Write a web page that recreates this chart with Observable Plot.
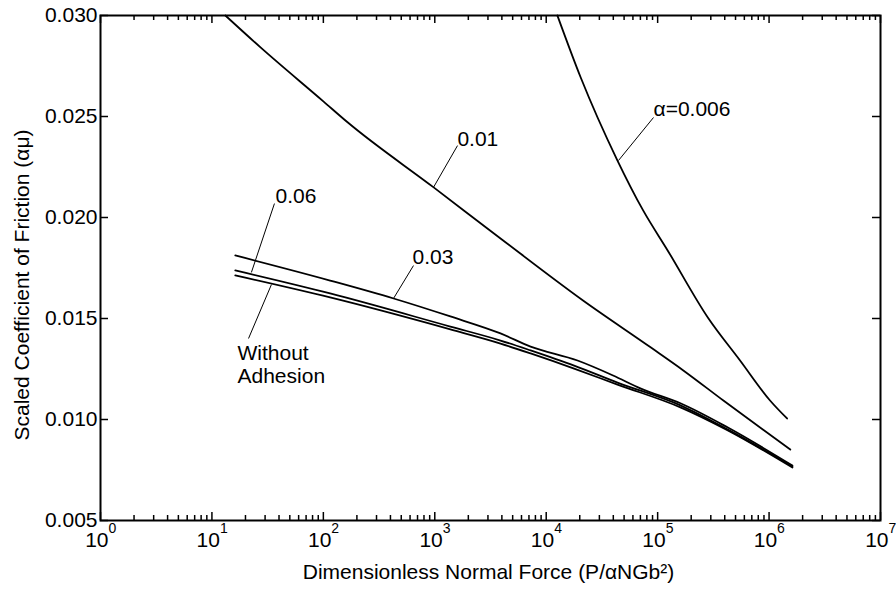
<!DOCTYPE html>
<html>
<head>
<meta charset="utf-8">
<script src="https://cdn.jsdelivr.net/npm/d3@7"></script>
<script src="https://cdn.jsdelivr.net/npm/@observablehq/plot@0.6"></script>
<style>
  body { margin: 0; background: #fff; }
  #chart svg { display: block; }
</style>
</head>
<body>
<div id="chart"></div>
<script>
// Scaled friction coefficient vs. dimensionless normal force, for several adhesion levels α.

// α = 0.006
const force006 = [12600, 20400, 43600, 74100, 123000, 282000, 549000, 1020000, 1450000];
const mu006    = [0.0300, 0.02693, 0.02282, 0.02035, 0.01837, 0.01505, 0.01292, 0.01094, 0.01005];

// α = 0.01
const force01 = [13.2, 27.3, 100, 166, 977, 3890, 21400, 87100, 170000, 389000, 1550000];
const mu01    = [0.0300, 0.02842, 0.02575, 0.0247, 0.02149, 0.01896, 0.01589, 0.01356, 0.01243, 0.01094, 0.00851];

// α = 0.03
const force03 = [16.2, 115, 427, 1380, 3890, 7240, 19100, 39800, 70800, 162000, 427000, 1620000];
const mu03    = [0.01812, 0.01688, 0.01599, 0.01510, 0.01426, 0.01361, 0.01292, 0.01218, 0.01153, 0.01079, 0.00960, 0.00772];

// α = 0.06 and the no-adhesion case share the same force samples
const forceLow = [16.2, 115, 1380, 3890, 7240, 17800, 43600, 162000, 427000, 1620000];
const mu06     = [0.01738, 0.01624, 0.01460, 0.01391, 0.01342, 0.01267, 0.01183, 0.01069, 0.00950, 0.00767];
const muNone   = [0.01713, 0.01604, 0.01446, 0.01376, 0.01327, 0.01252, 0.01173, 0.01059, 0.00946, 0.00762];

// Curve labels and their leader lines (data coordinates)
const labelText   = ["α=0.006", "0.01", "0.03", "0.06", "Without\nAdhesion"];
const labelForce  = [91800, 1596, 631, 37.2, 16.96];
const labelMu     = [0.02540, 0.02391, 0.01807, 0.02109, 0.01276];
const leaderForce1 = [91800, 1600, 644, 36.4, 21.3];
const leaderMu1    = [0.02495, 0.02356, 0.01762, 0.02069, 0.01401];
const leaderForce2 = [44500, 973, 426, 22.6, 34.2];
const leaderMu2    = [0.02282, 0.02149, 0.01599, 0.01728, 0.01668];

// Axis ticks
const xMajor = [1, 1e1, 1e2, 1e3, 1e4, 1e5, 1e6, 1e7];
const xMinor = xMajor.slice(0, -1).flatMap(p => [2, 3, 4, 5, 6, 7, 8, 9].map(m => m * p));
const yTicks = [0.005, 0.010, 0.015, 0.020, 0.025, 0.030];

const xLabel = "Dimensionless Normal Force (P/αNGb²)";
const yLabel = "Scaled Coefficient of Friction (αμ)";

const series = (xs, ys) => xs.map((x, i) => ({x, y: ys[i]}));
const curves = [
  series(force006, mu006),
  series(force01, mu01),
  series(force03, mu03),
  series(forceLow, mu06),
  series(forceLow, muNone)
];
const labels = labelText.map((t, i) => ({t, x: labelForce[i], y: labelMu[i]}));
const leaders = labelText.map((t, i) => ({
  x1: leaderForce1[i], y1: leaderMu1[i], x2: leaderForce2[i], y2: leaderMu2[i]
}));

const W = 896, H = 589;
const M = {top: 15, right: 16, bottom: 69, left: 100};
const innerW = W - M.left - M.right;
const innerH = H - M.top - M.bottom;
const FS = 21;

const chart = Plot.plot({
  width: W,
  height: H,
  marginTop: M.top,
  marginRight: M.right,
  marginBottom: M.bottom,
  marginLeft: M.left,
  style: {fontFamily: "'Liberation Sans', Arial, Helvetica, sans-serif", background: "#fff", color: "#000", overflow: "visible"},
  x: {type: "log", domain: [1, 1e7], axis: null},
  y: {domain: [0.005, 0.030], axis: null},
  marks: [
    // inward ticks on all four sides
    Plot.tickX(xMajor, {x: d => d, insetTop: innerH - 8, stroke: "#000", strokeWidth: 1.5}),
    Plot.tickX(xMajor, {x: d => d, insetBottom: innerH - 8, stroke: "#000", strokeWidth: 1.5}),
    Plot.tickX(xMinor, {x: d => d, insetTop: innerH - 5, stroke: "#000", strokeWidth: 1.5}),
    Plot.tickX(xMinor, {x: d => d, insetBottom: innerH - 5, stroke: "#000", strokeWidth: 1.5}),
    Plot.tickY(yTicks, {y: d => d, insetRight: innerW - 8, stroke: "#000", strokeWidth: 1.5}),
    Plot.tickY(yTicks, {y: d => d, insetLeft: innerW - 8, stroke: "#000", strokeWidth: 1.5}),
    Plot.frame({stroke: "#000", strokeWidth: 2}),

    // curves
    ...curves.map(c => Plot.line(c, {x: "x", y: "y", stroke: "#000", strokeWidth: 1.8, curve: "monotone-x"})),

    // leader lines and curve labels
    Plot.link(leaders, {x1: "x1", y1: "y1", x2: "x2", y2: "y2", stroke: "#000", strokeWidth: 1}),
    Plot.text(labels, {x: "x", y: "y", text: "t", textAnchor: "start", lineAnchor: "middle", lineHeight: 1.1, fontSize: FS, fill: "#000"}),

    // x tick labels as 10 with a raised exponent
    Plot.text(xMajor, {x: d => d, frameAnchor: "bottom", text: () => "10", textAnchor: "end", lineAnchor: "middle", dx: 8, dy: 20, fontSize: FS, fill: "#000"}),
    Plot.text(xMajor, {x: d => d, frameAnchor: "bottom", text: d => String(Math.round(Math.log10(d))), textAnchor: "start", lineAnchor: "middle", dx: 8, dy: 8, fontSize: 14, fill: "#000"}),

    // y tick labels
    Plot.text(yTicks, {y: d => d, frameAnchor: "left", text: d => d.toFixed(3), textAnchor: "end", lineAnchor: "middle", dx: -3, fontSize: FS, fill: "#000"}),

    // axis titles
    Plot.text([xLabel], {frameAnchor: "bottom", text: d => d, textAnchor: "middle", lineAnchor: "middle", dx: -2, dy: 52, fontSize: FS, fill: "#000"}),
    Plot.text([yLabel], {frameAnchor: "left", text: d => d, textAnchor: "middle", lineAnchor: "middle", rotate: -90, dx: -78, dy: 17, fontSize: FS, fill: "#000"})
  ]
});

document.getElementById("chart").appendChild(chart);
</script>
</body>
</html>
